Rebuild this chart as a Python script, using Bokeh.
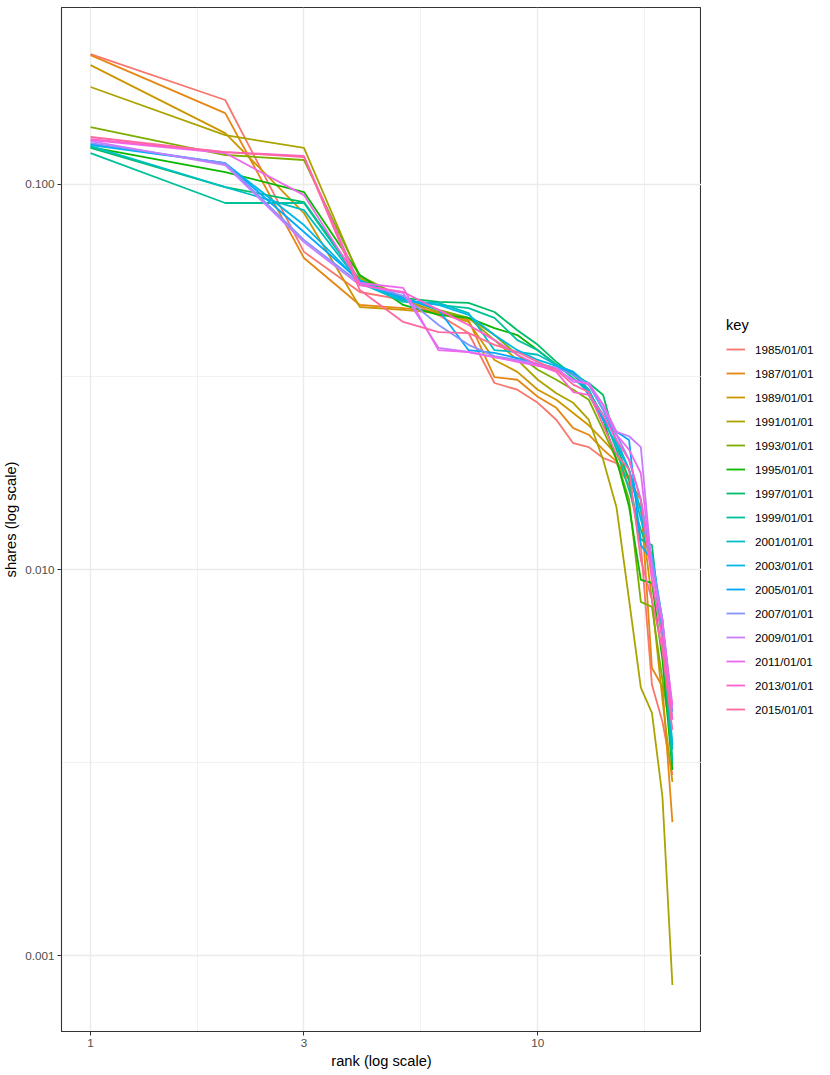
import math
from bokeh.plotting import figure
from bokeh.layouts import row
from bokeh.models import (Range1d, FixedTicker, PrintfTickFormatter, Legend,
                          LegendItem)
from bokeh.embed import file_html
from bokeh.resources import INLINE

# ---------------- data ----------------
ranks = list(range(1, 21))

keys = ["1985/01/01", "1987/01/01", "1989/01/01", "1991/01/01",
        "1993/01/01", "1995/01/01", "1997/01/01", "1999/01/01",
        "2001/01/01", "2003/01/01", "2005/01/01", "2007/01/01",
        "2009/01/01", "2011/01/01", "2013/01/01", "2015/01/01"]

colors = ["#F8766D", "#E68613", "#CD9600", "#ABA300", "#7CAE00", "#0CB702",
          "#00BE67", "#00C19A", "#00BFC4", "#00B8E7", "#00A9FF", "#8494FF",
          "#C77CFF", "#ED68ED", "#FF61CC", "#FF68A1"]

s1985 = [0.2172, 0.1651, 0.0667, 0.0525, 0.0501, 0.0458, 0.0411, 0.0305, 0.0293, 0.0271,
         0.0245, 0.0213, 0.0208, 0.0195, 0.0189, 0.0166, 0.0116, 0.00504, 0.00404, 0.00294]
s1987 = [0.2159, 0.1527, 0.0643, 0.0486, 0.0477, 0.0466, 0.0444, 0.0316, 0.0311, 0.0281,
         0.0263, 0.0233, 0.0224, 0.0205, 0.0191, 0.0171, 0.0152, 0.00557, 0.00498, 0.00222]
s1989 = [0.2033, 0.1355, 0.0841, 0.0480, 0.0472, 0.0463, 0.0439, 0.0350, 0.0326, 0.0293,
         0.0276, 0.0255, 0.0237, 0.0217, 0.0199, 0.0173, 0.0143, 0.00836, 0.00460, 0.00282]
s1991 = [0.1784, 0.1339, 0.1240, 0.0571, 0.0501, 0.0466, 0.0450, 0.0394, 0.0350, 0.0311,
         0.0287, 0.0271, 0.0245, 0.0193, 0.0145, 0.00836, 0.00495, 0.00426, 0.00258, 0.00084]
s1993 = [0.1405, 0.1189, 0.1154, 0.0578, 0.0507, 0.0472, 0.0450, 0.0406, 0.0361, 0.0330,
         0.0311, 0.0293, 0.0276, 0.0230, 0.0193, 0.0152, 0.00826, 0.00802, 0.00519, 0.00352]
s1995 = [0.1247, 0.1074, 0.0953, 0.0581, 0.0486, 0.0458, 0.0450, 0.0423, 0.0406, 0.0371,
         0.0340, 0.0320, 0.0293, 0.0245, 0.0193, 0.0146, 0.00942, 0.00925, 0.00585, 0.00303]
s1997 = [0.1240, 0.0982, 0.0898, 0.0564, 0.0507, 0.0495, 0.0492, 0.0466, 0.0418, 0.0383,
         0.0346, 0.0320, 0.0305, 0.0284, 0.0211, 0.0171, 0.0120, 0.0116, 0.00659, 0.00313]
s1999 = [0.1203, 0.0893, 0.0893, 0.0557, 0.0501, 0.0486, 0.0477, 0.0450, 0.0394, 0.0371,
         0.0340, 0.0314, 0.0289, 0.0252, 0.0205, 0.0161, 0.0127, 0.0106, 0.00659, 0.00322]
s2001 = [0.1254, 0.0982, 0.0856, 0.0554, 0.0495, 0.0492, 0.0463, 0.0371, 0.0367, 0.0361,
         0.0340, 0.0326, 0.0302, 0.0260, 0.0217, 0.0182, 0.0143, 0.0103, 0.00699, 0.00342]
s2003 = [0.1262, 0.1133, 0.0783, 0.0557, 0.0501, 0.0486, 0.0458, 0.0406, 0.0371, 0.0350,
         0.0338, 0.0326, 0.0293, 0.0245, 0.0211, 0.0182, 0.0135, 0.0109, 0.00742, 0.00352]
s2005 = [0.1269, 0.1133, 0.0751, 0.0561, 0.0507, 0.0472, 0.0371, 0.0365, 0.0354, 0.0342,
         0.0334, 0.0326, 0.0284, 0.0245, 0.0228, 0.0217, 0.0116, 0.0106, 0.00729, 0.00429]
s2007 = [0.1277, 0.1133, 0.0716, 0.0554, 0.0513, 0.0431, 0.0383, 0.0358, 0.0350, 0.0342,
         0.0334, 0.0320, 0.0302, 0.0260, 0.0224, 0.0193, 0.0152, 0.0106, 0.00742, 0.00409]
s2009 = [0.1292, 0.1120, 0.0707, 0.0547, 0.0522, 0.0376, 0.0367, 0.0356, 0.0348, 0.0340,
         0.0334, 0.0307, 0.0305, 0.0268, 0.0228, 0.0222, 0.0208, 0.0100, 0.00742, 0.00434]
s2011 = [0.1300, 0.1203, 0.0936, 0.0554, 0.0538, 0.0371, 0.0367, 0.0356, 0.0346, 0.0338,
         0.0330, 0.0311, 0.0302, 0.0268, 0.0224, 0.0205, 0.0178, 0.0100, 0.00720, 0.00447]
s2013 = [0.1308, 0.1210, 0.1182, 0.0547, 0.0525, 0.0472, 0.0431, 0.0394, 0.0361, 0.0340,
         0.0326, 0.0289, 0.0284, 0.0252, 0.0217, 0.0193, 0.0152, 0.00942, 0.00659, 0.00409]
s2015 = [0.1324, 0.1210, 0.1175, 0.0531, 0.0439, 0.0413, 0.0411, 0.0383, 0.0367, 0.0346,
         0.0330, 0.0302, 0.0289, 0.0237, 0.0199, 0.0182, 0.0106, 0.00836, 0.00620, 0.00385]

series = [s1985, s1987, s1989, s1991, s1993, s1995, s1997, s1999,
          s2001, s2003, s2005, s2007, s2009, s2011, s2013, s2015]

x_ticks = [1, 3, 10]
y_ticks = [0.001, 0.010, 0.100]

# ---------------- ranges (ggplot-like 5% expansion in log space) --------
all_y = [v for s in series for v in s]
ly0, ly1 = math.log10(min(all_y)), math.log10(max(all_y))
py = 0.05 * (ly1 - ly0)
lx0, lx1 = math.log10(min(ranks)), math.log10(max(ranks))
px = 0.05 * (lx1 - lx0)

FONT = "Liberation Sans"
TOTAL_H = 7 + 1024 + 36

p = figure(x_axis_type="log", y_axis_type="log",
           x_range=Range1d(10 ** (lx0 - px), 10 ** (lx1 + px)),
           y_range=Range1d(10 ** (ly0 - py), 10 ** (ly1 + py)),
           frame_width=640, frame_height=1024,
           min_border_left=54, min_border_right=0,
           min_border_top=7, min_border_bottom=36,
           output_backend="svg", toolbar_location=None,
           background_fill_color="white", border_fill_color="white")

p.outline_line_color = "#333333"
p.outline_line_width = 1.1

# grid: majors at ticks, minors at log-midpoints between breaks
x_breaks_ext = x_ticks + [30]
x_minor = [math.sqrt(a * b) for a, b in zip(x_breaks_ext[:-1], x_breaks_ext[1:])]
y_minor = [math.sqrt(a * b) for a, b in zip(y_ticks[:-1], y_ticks[1:])]
p.xgrid.ticker = FixedTicker(ticks=x_ticks, minor_ticks=x_minor)
p.ygrid.ticker = FixedTicker(ticks=y_ticks, minor_ticks=y_minor)
for g in (p.xgrid, p.ygrid):
    g.grid_line_color = "#EBEBEB"
    g.grid_line_width = 1.4
    g.minor_grid_line_color = "#EBEBEB"
    g.minor_grid_line_width = 0.7

p.xaxis.ticker = FixedTicker(ticks=x_ticks)
p.yaxis.ticker = FixedTicker(ticks=y_ticks)
p.xaxis.formatter = PrintfTickFormatter(format="%d")
p.yaxis.formatter = PrintfTickFormatter(format="%.3f")
p.xaxis.axis_label = "rank (log scale)"
p.yaxis.axis_label = "shares (log scale)"

for ax in (p.xaxis, p.yaxis):
    ax.axis_line_color = "#333333"
    ax.major_tick_line_color = "#333333"
    ax.major_tick_in = 0
    ax.major_tick_out = 4
    ax.minor_tick_line_color = None
    ax.major_label_text_font = FONT
    ax.major_label_text_font_size = "11.7px"
    ax.major_label_text_color = "#4D4D4D"
    ax.major_label_standoff = 3
    ax.axis_label_text_font = FONT
    ax.axis_label_text_font_size = "14.7px"
    ax.axis_label_text_font_style = "normal"
    ax.axis_label_text_color = "black"
    ax.axis_label_standoff = 3

for col, s in zip(colors, series):
    p.line(ranks, s, line_color=col, line_width=1.8)

# ---------------- legend, in its own strip right of the panel ----------
leg = figure(width=120, height=TOTAL_H, x_range=Range1d(0, 1),
             y_range=Range1d(0, 1), min_border=0,
             x_axis_location=None, y_axis_location=None,
             output_backend="svg", toolbar_location=None,
             background_fill_color="white", border_fill_color="white",
             outline_line_color=None)
leg.grid.visible = False

items = []
for key, col in zip(keys, colors):
    # off-range stub renderer: only its legend glyph is visible
    r = leg.line([-2, -1], [-2, -2], line_color=col, line_width=1.8)
    items.append(LegendItem(label=key, renderers=[r]))

legend = Legend(items=items, location=(25, 308), title="key",
                title_text_font=FONT, title_text_font_size="14.7px",
                title_text_font_style="normal", title_text_color="black",
                title_standoff=6,
                label_text_font=FONT, label_text_font_size="11.7px",
                label_text_color="black",
                label_standoff=10, glyph_width=19, glyph_height=20,
                label_height=20, spacing=4, padding=0, margin=0,
                border_line_color=None, background_fill_alpha=0)
leg.add_layout(legend, "center")

layout = row(p, leg)
open("out.html", "w").write(file_html(layout, INLINE))
